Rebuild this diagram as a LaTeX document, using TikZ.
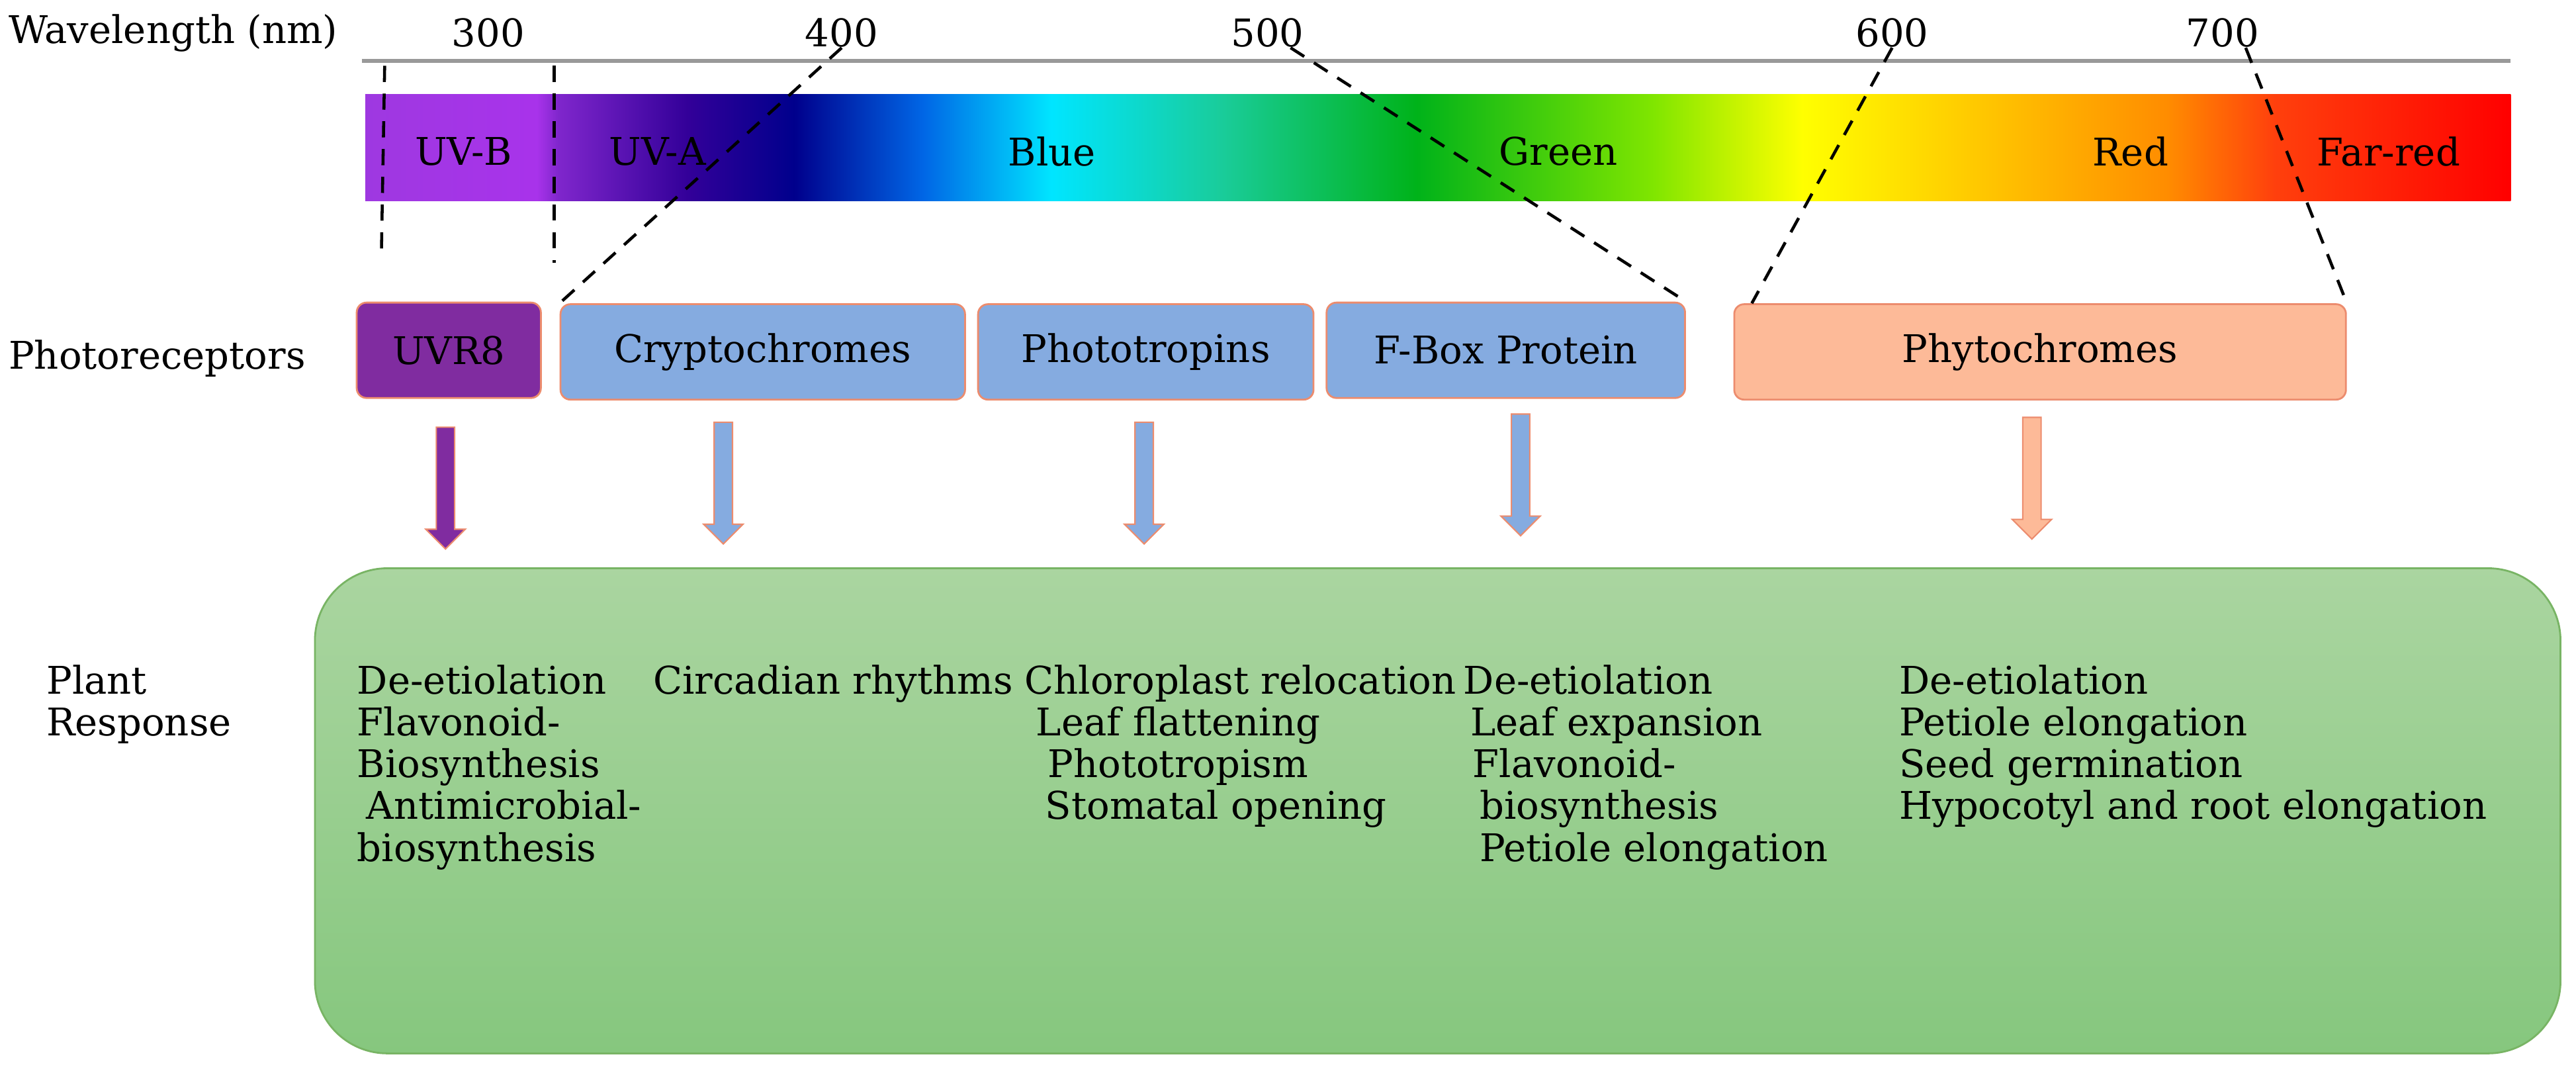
\documentclass[tikz,border=0pt]{standalone}
\usepackage{fontspec}
\setmainfont{DejaVu Serif}
\usetikzlibrary{shapes.arrows}
\definecolor{uvpurple}{RGB}{128,44,160}
\definecolor{blbox}{RGB}{133,171,224}
\definecolor{phbox}{RGB}{253,186,152}
\definecolor{salmon}{RGB}{236,140,110}
\definecolor{grnedge}{RGB}{120,180,100}
\definecolor{grntop}{RGB}{170,213,160}
\definecolor{grnbot}{RGB}{134,199,126}
% node shadings use the middle half (25bp--75bp)
\pgfdeclarehorizontalshading{spectrum}{100bp}{
    rgb(0bp)=(0.62,0.22,0.88);
    rgb(25bp)=(0.62,0.22,0.88);
    rgb(29bp)=(0.66,0.2,0.92);
    rgb(29.5bp)=(0.5,0.15,0.8);
    rgb(32.5bp)=(0.2,0.0,0.6);
    rgb(35bp)=(0.0,0.0,0.55);
    rgb(38bp)=(0.0,0.4,0.9);
    rgb(41bp)=(0.0,0.9,1.0);
    rgb(45bp)=(0.1,0.8,0.6);
    rgb(49.5bp)=(0.0,0.7,0.1);
    rgb(55bp)=(0.5,0.9,0.0);
    rgb(58.5bp)=(1.0,1.0,0.0);
    rgb(67bp)=(1.0,0.55,0.0);
    rgb(69.5bp)=(1.0,0.25,0.05);
    rgb(75bp)=(1.0,0.0,0.0);
    rgb(100bp)=(1.0,0.0,0.0)}
\tikzset{
    labeltext/.style = {
        font=\fontsize{16.5}{18.1}\selectfont,
        inner sep=0pt
    },
    recnode/.style = {
        labeltext,
        rectangle,
        rounded corners=1.5mm,
        draw=salmon,
        line width=0.8pt,
        minimum height=1.45cm
    },
    arrownode/.style = {
        single arrow,
        shape border rotate=270,
        draw=salmon,
        line width=0.6pt,
        minimum width=0.6cm,
        single arrow head extend=0.15cm,
        single arrow tip angle=90,
        inner sep=0.12cm
    },
    resptext/.style = {
        labeltext,
        align=left,
        anchor=north west
    },
    cutline/.style = {
        line width=1.3pt,
        dash pattern=on 7pt off 5pt
    }
}
\begin{document}
\begin{tikzpicture}[x=0.025cm,y=-0.025cm]
\useasboundingbox (0,0) rectangle (1567,650);
% wavelength axis
\node [labeltext,anchor=west] (wl) at (5,20) {Wavelength (nm)};
\foreach \w/\px in {300/297,400/512,500/771,600/1151,700/1352}
    \node [labeltext] (n\w) at (\px,20) {\w};
\coordinate (axl) at (220,37);
\coordinate (axr) at (1527,37);
\draw [gray!80,line width=1.5pt] (axl) -- (axr);
% spectrum bar
\node [inner sep=0pt,minimum width=1305*0.025cm,minimum height=65*0.025cm,
       anchor=north west,shading=spectrum] (bar) at (222,57) {};
\foreach \t/\px in {UV-B/282,UV-A/400,Blue/640,Green/948,Red/1296,Far-red/1453}
    \node [labeltext] at (\px,92) {\t};
% photoreceptors
\node [labeltext,anchor=west] (prlab) at (5,218) {Photoreceptors};
\node [recnode,fill=uvpurple,minimum width=2.8cm] (uvr) at (273,213) {UVR8};
\node [recnode,fill=blbox,minimum width=6.15cm] (cry) at (464,214) {Cryptochromes};
\node [recnode,fill=blbox,minimum width=5.1cm] (pht) at (697,214) {Phototropins};
\node [recnode,fill=blbox,minimum width=5.45cm] (fbx) at (916,213) {F-Box Protein};
\node [recnode,fill=phbox,minimum width=9.3cm] (phy) at (1241,214) {Phytochromes};
% dashed guides
\coordinate (d1a) at (234,40);  \coordinate (d1b) at (232,155);
\coordinate (d2a) at (337,40);  \coordinate (d2b) at (337,160);
\draw [cutline] (d1a) -- (d1b);
\draw [cutline] (d2a) -- (d2b);
\draw [cutline] (n400.south) -- (cry.north west);
\draw [cutline] ([xshift=10pt]n500.south) -- (fbx.north east);
\draw [cutline] (n600.south) -- ([xshift=8pt]phy.north west);
\draw [cutline] ([xshift=10pt]n700.south) -- (phy.north east);
% arrows
\node [arrownode,fill=uvpurple,minimum height=1.85cm] (a1) at (271,294) {};
\node [arrownode,fill=blbox,minimum height=1.85cm] (a2) at (440,291) {};
\node [arrownode,fill=blbox,minimum height=1.85cm] (a3) at (696,291) {};
\node [arrownode,fill=blbox,minimum height=1.85cm] (a4) at (925,286) {};
\node [arrownode,fill=phbox,minimum height=1.85cm] (a5) at (1236,288) {};
% plant response
\node [draw=grnedge,line width=0.8pt,rounded corners=1.1cm,
       top color=grntop,bottom color=grnbot,
       minimum width=1366*0.025cm,minimum height=295*0.025cm,anchor=north west] (resp) at (191,345) {};
\node [resptext] (rlab) at (28,404) {Plant\\Response};
\node [resptext] (c1) at (217,404) {De-etiolation\\Flavonoid-\\Biosynthesis\\\hspace{4pt}Antimicrobial-\\biosynthesis};
\node [resptext] (c2) at (397,404) {Circadian rhythms};
\node [resptext] (c3) at (623,404) {Chloroplast relocation\\\hspace{5pt}Leaf flattening\\\hspace{10pt}Phototropism\\\hspace{9pt}Stomatal opening};
\node [resptext] (c4) at (890,404) {De-etiolation\\\hspace{3pt}Leaf expansion\\\hspace{4pt}Flavonoid-\\\hspace{7pt}biosynthesis\\\hspace{7pt}Petiole elongation};
\node [resptext] (c5) at (1155,404) {De-etiolation\\Petiole elongation\\Seed germination\\Hypocotyl and root elongation};
\end{tikzpicture}
\end{document}
